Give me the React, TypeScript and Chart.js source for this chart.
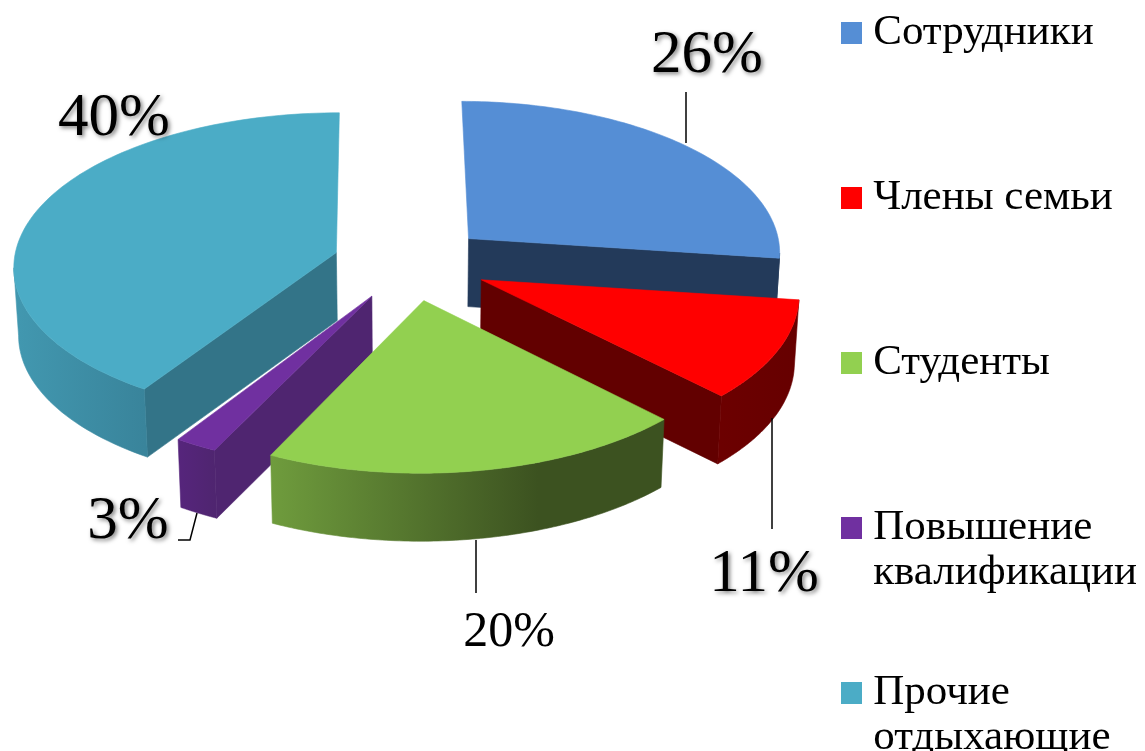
import React, { useEffect, useRef } from "react";
import { Chart, registerables } from "chart.js";

Chart.register(...registerables);

const categories: string[][] = [
  ["Сотрудники", ""],
  ["Члены семьи", ""],
  ["Студенты", ""],
  ["Повышение", "квалификации"],
  ["Прочие", "отдыхающие"],
];
const shares = [26, 11, 20, 3, 40];
const sliceColors = ["#558ed5", "#ff0000", "#92d050", "#7030a0", "#4bacc6"];
const wallColors = ["#233a5a", "#620000", "#3c5220", "#4f2570", "#337488"];
const rimLeft = ["#233a5a", "#6c0000", "#6f9c3d", "#56257c", "#4298b0"];
const rimRight = ["#233a5a", "#660000", "#3c5220", "#4f2570", "#39849b"];
const labelFont = [61, 61, 50, 61, 61];
const labelShadow = [true, true, false, true, true];
const labelAt = [
  [707, 56],
  [764, 575],
  [509, 633],
  [128, 522],
  [114, 119],
];
const leaders = [
  [[686, 92], [686, 143]],
  [[772, 418], [772, 529]],
  [[476, 540], [476, 593]],
  [[178, 540], [190, 540], [197, 513]],
  [],
];
// 3-D view distortion of the slice boundaries, degrees (first boundary, then each slice's end)
const boundaryTwist = [-0.5, 3.9, 2.3, 0.8, -3, -0.5];

const CANVAS_W = 1147;
const CANVAS_H = 1000;
const RADIUS = 318;
const EXPLODE = 78;
const ORIGIN = [411, 263];
const TILT = 0.479;
const PERSPECTIVE = 0.0807;
const PERSPECTIVE_X = 0.01;
const DEPTH = 68;
const BOTTOM_SHRINK = 0.988;

type P = [number, number];

function project(X: number, Y: number, R: number): P {
  const d = 1 - (PERSPECTIVE * Y) / R + (PERSPECTIVE_X * X) / R;
  return [ORIGIN[0] + X / d, ORIGIN[1] + (TILT * Y) / d];
}
function lower(p: P): P {
  return [ORIGIN[0] + (p[0] - ORIGIN[0]) * BOTTOM_SHRINK, p[1] + DEPTH];
}
function poly(ctx: CanvasRenderingContext2D, pts: P[], fill: string | CanvasGradient) {
  ctx.beginPath();
  pts.forEach((p, i) => (i ? ctx.lineTo(p[0], p[1]) : ctx.moveTo(p[0], p[1])));
  ctx.closePath();
  ctx.fillStyle = fill;
  ctx.fill();
  ctx.strokeStyle = fill;
  ctx.lineWidth = 0.6;
  ctx.stroke();
}

const drawOrder = [0, 4, 1, 3, 2];
const DEG = Math.PI / 180;

const pie3d = {
  id: "pie3d",
  beforeDatasetsDraw(chart: any) {
    const ctx: CanvasRenderingContext2D = chart.ctx;
    const arcs = chart.getDatasetMeta(0).data;
    for (const i of drawOrder) {
      const arc = arcs[i];
      const R = arc.outerRadius;
      const a0 = arc.startAngle + boundaryTwist[i] * DEG;
      const a1 = arc.endAngle + boundaryTwist[i + 1] * DEG;
      const mid = (a0 + a1) / 2;
      const off = arc.options.offset;
      const ox = off * Math.cos(mid);
      const oy = off * Math.sin(mid);
      const at = (a: number) => project(ox + R * Math.cos(a), oy + R * Math.sin(a), R);
      const apex = project(ox, oy, R);
      const n = 100;
      const rim: P[] = [];
      let front: P[] = [];
      for (let k = 0; k <= n; k++) {
        const a = a0 + ((a1 - a0) * k) / n;
        const p = at(a);
        rim.push(p);
        if (Math.sin(a) >= -0.25) front.push(p);
      }
      // keep the outer wall between the silhouette points of the slice
      if (front.length > 1) {
        const xs = front.map((p) => p[0]);
        const iMin = xs.indexOf(Math.min(...xs));
        const iMax = xs.indexOf(Math.max(...xs));
        const last = front.length - 1;
        if (iMin > 0 && iMin < last) front = front.slice(0, iMin + 1);
        else if (iMax > 0 && iMax < last) front = front.slice(iMax);
      }
      const sA = at(a0);
      const sB = at(a1);
      const startVisible = Math.sin(a0 - Math.PI / 2) > 0.05;
      const endVisible = Math.sin(a1 + Math.PI / 2) > 0;
      if (endVisible) poly(ctx, [apex, sB, lower(sB), lower(apex)], wallColors[i]);
      if (startVisible) poly(ctx, [apex, sA, lower(sA), lower(apex)], wallColors[i]);
      if (front.length > 1) {
        const xs = front.map((p) => p[0]);
        const g = ctx.createLinearGradient(Math.min(...xs), 0, Math.max(...xs), 0);
        g.addColorStop(0, rimLeft[i]);
        g.addColorStop(i === 2 ? 0.68 : 1, rimRight[i]);
        g.addColorStop(1, rimRight[i]);
        poly(ctx, [...front, ...front.slice().reverse().map(lower)], g);
      }
      poly(ctx, [apex, ...rim], arc.options.backgroundColor);
    }
    return false;
  },
  afterDraw(chart: any) {
    const ctx: CanvasRenderingContext2D = chart.ctx;
    ctx.save();
    ctx.strokeStyle = "#000";
    ctx.lineWidth = 1.5;
    leaders.forEach((line) => {
      ctx.beginPath();
      line.forEach((p, k) => (k ? ctx.lineTo(p[0], p[1]) : ctx.moveTo(p[0], p[1])));
      ctx.stroke();
    });
    ctx.textAlign = "center";
    ctx.textBaseline = "middle";
    ctx.fillStyle = "#000";
    shares.forEach((v, i) => {
      ctx.font = `${labelFont[i]}px "Liberation Serif"`;
      ctx.shadowColor = labelShadow[i] ? "rgba(0,0,0,0.5)" : "transparent";
      ctx.shadowBlur = labelShadow[i] ? 4 : 0;
      ctx.shadowOffsetX = labelShadow[i] ? 2 : 0;
      ctx.shadowOffsetY = labelShadow[i] ? 2 : 0;
      ctx.fillText(`${v}%`, labelAt[i][0], labelAt[i][1]);
    });
    ctx.restore();
  },
};

function swatch(color: string): HTMLCanvasElement {
  const c = document.createElement("canvas");
  c.width = 21;
  c.height = 22;
  const x = c.getContext("2d")!;
  x.fillStyle = color;
  x.fillRect(0, 0, 21, 22);
  return c;
}

export default function App() {
  const ref = useRef<HTMLCanvasElement>(null);
  useEffect(() => {
    document.body.style.margin = "0";
    document.body.style.background = "#fff";
    const chart = new Chart(ref.current!, {
      type: "pie",
      data: {
        labels: categories as any,
        datasets: [
          {
            data: shares,
            backgroundColor: sliceColors,
            borderWidth: 0,
            offset: EXPLODE,
          },
        ],
      },
      options: {
        responsive: false,
        animation: false,
        radius: RADIUS,
        layout: { padding: { top: -64 } },
        plugins: {
          tooltip: { enabled: false },
          legend: {
            position: "right",
            align: "start",
            labels: {
              font: { family: '"Liberation Serif"', size: 43, lineHeight: "45px" },
              color: "#111",
              padding: 75,
              usePointStyle: true,
              pointStyleWidth: 0.01,
              boxHeight: 22,
              generateLabels: () =>
                categories.map((text, i) => ({
                  text,
                  fillStyle: sliceColors[i],
                  strokeStyle: sliceColors[i],
                  lineWidth: 0,
                  hidden: false,
                  index: i,
                  pointStyle: swatch(sliceColors[i]),
                })) as any,
            },
          },
        },
      } as any,
      plugins: [pie3d],
    });
    return () => chart.destroy();
  }, []);
  return (
    <div style={{ width: 1145, height: 751, overflow: "hidden", position: "relative" }}>
      <canvas ref={ref} width={CANVAS_W} height={CANVAS_H} style={{ display: "block" }} />
    </div>
  );
}
